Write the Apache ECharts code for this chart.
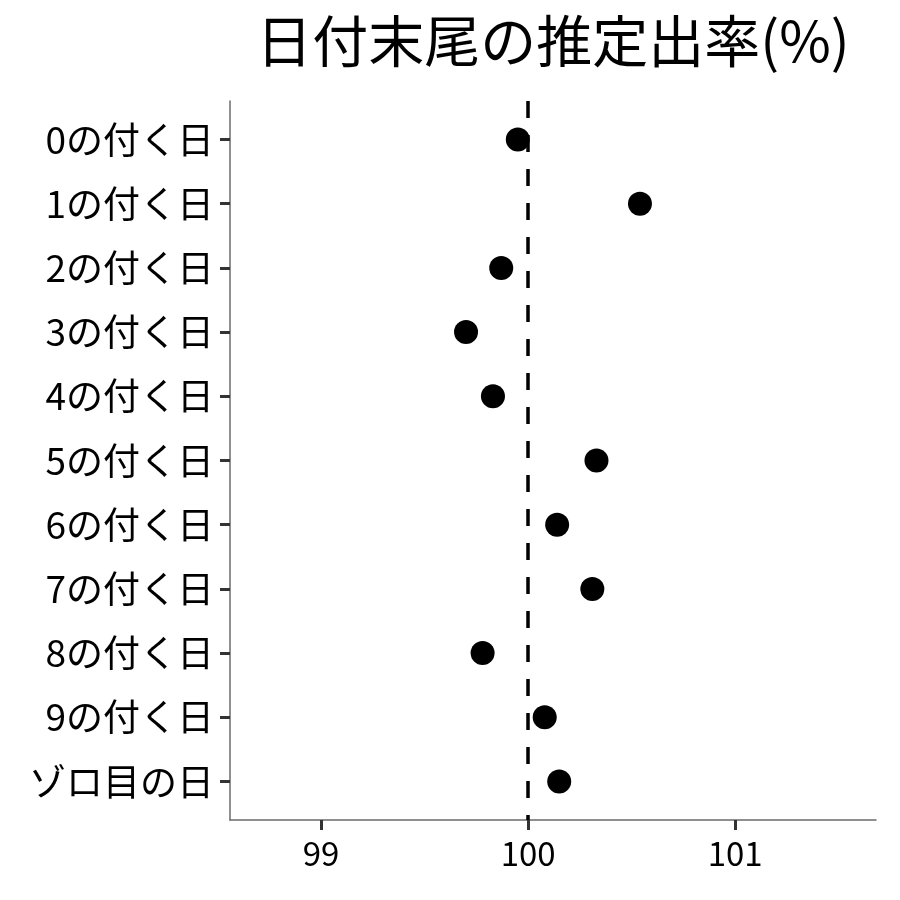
<!DOCTYPE html>
<html>
<head>
<meta charset="utf-8">
<script src="https://cdn.jsdelivr.net/npm/echarts@6/dist/echarts.min.js"></script>
<style>
    html, body { margin: 0; padding: 0; background: #fff; }
    #chart { width: 900px; height: 900px; }
</style>
</head>
<body>
<div id="chart"></div>
<script>
var categories = ['0の付く日', '1の付く日', '2の付く日', '3の付く日', '4の付く日',
    '5の付く日', '6の付く日', '7の付く日', '8の付く日', '9の付く日', 'ゾロ目の日'];
var rates = [99.95, 100.54, 99.87, 99.70, 99.83, 100.33, 100.14, 100.31, 99.78, 100.08, 100.15];
var xTicks = [99, 100, 101];
var baseline = 100;

(function() {
    var font = '"Noto Sans CJK JP", "Noto Sans", sans-serif';
    var chart = echarts.init(document.getElementById('chart'));
    var catIndex = categories.map(function(c, i) { return i; });
    var points = rates.map(function(v, i) { return [v, i]; });

    var option = {
        animation: false,
        title: {
            text: '日付末尾の推定出率(%)',
            left: 548,
            top: 8,
            textAlign: 'center',
            textStyle: { fontFamily: font, fontSize: 56, fontWeight: 'normal', color: '#000' }
        },
        grid: { left: 230, right: 24, top: 101, bottom: 80, containLabel: false },
        xAxis: {
            type: 'value',
            min: 98.56,
            max: 101.68,
            splitLine: { show: false },
            axisLine: { onZero: false, lineStyle: { color: '#6b6b6b', width: 1.5 } },
            axisTick: { show: true, customValues: xTicks, length: 10, lineStyle: { color: '#333', width: 3 } },
            axisLabel: {
                customValues: xTicks,
                margin: 17,
                fontFamily: font, fontSize: 33, color: '#000'
            }
        },
        yAxis: {
            type: 'value',
            inverse: true,
            min: -0.6,
            max: 10.6,
            splitLine: { show: false },
            axisLine: { show: true, onZero: false, lineStyle: { color: '#6b6b6b', width: 1.5 } },
            axisTick: { show: true, customValues: catIndex, length: 10, lineStyle: { color: '#333', width: 3 } },
            axisLabel: {
                customValues: catIndex,
                margin: 16,
                fontFamily: font, fontSize: 37, color: '#000',
                formatter: function(v) { return categories[Math.round(v)]; }
            }
        },
        series: [{
            type: 'scatter',
            data: points,
            symbol: 'circle',
            symbolSize: 24,
            itemStyle: { color: '#000', opacity: 1 },
            markLine: {
                silent: true,
                symbol: 'none',
                label: { show: false },
                lineStyle: { color: '#000', width: 3.5, type: [17, 17] },
                data: [{ xAxis: baseline }]
            }
        }]
    };
    chart.setOption(option);
})();
</script>
</body>
</html>
